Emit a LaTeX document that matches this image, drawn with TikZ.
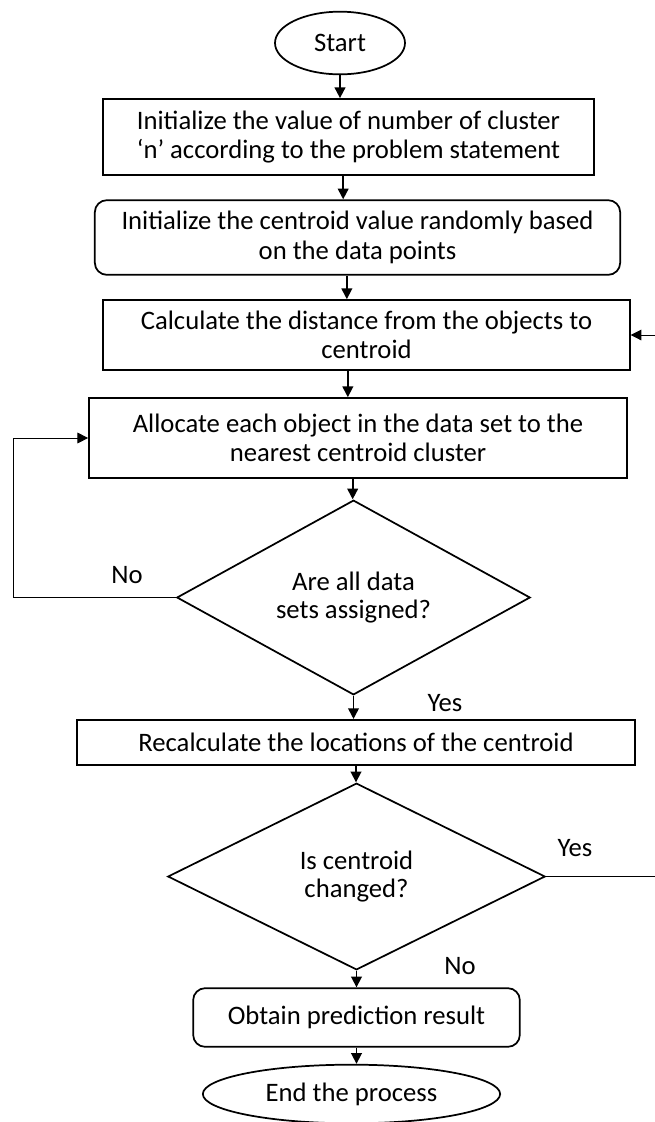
\documentclass[tikz,border=0pt]{standalone}
\usepackage{fontspec}
\setmainfont{Carlito}
\usetikzlibrary{shapes.geometric,arrows.meta}
\begin{document}
\begin{tikzpicture}[x=0.75pt,y=-0.75pt,line width=1.3pt,>={Triangle[length=8pt,width=8pt]},
main box/.style={rectangle,draw,align=center,inner sep=0pt,font=\fontsize{20}{22}\selectfont},
round box/.style={main box,rounded corners=9pt},
term node/.style={ellipse,draw,inner sep=0pt,font=\fontsize{20}{22}\selectfont},
cond node/.style={diamond,draw,aspect=2,align=center,inner sep=0pt,font=\fontsize{20}{21}\selectfont},
tag/.style={font=\fontsize{20}{22}\selectfont}]
\useasboundingbox (0,0) rectangle (654,1122);
\begin{scope}
\node[term node,minimum width=97.5pt,minimum height=47pt] (start) at (340,43) {Start};%start
\node[main box,minimum width=368pt,minimum height=57pt] (initn) at (348.5,137) {Initialize the value of number of cluster\\`n' according to the problem statement};%1
\node[round box,minimum width=394pt,minimum height=56pt] (initc) at (357.5,237.5) {Initialize the centroid value randomly based\\on the data points};%2
\node[main box,minimum width=395pt,minimum height=52.5pt] (dist) at (366.5,335) {Calculate the distance from the objects to\\centroid};%3
\node[main box,minimum width=403.5pt,minimum height=60pt] (alloc) at (358,438) {Allocate each object in the data set to the\\nearest centroid cluster};%4
\node[cond node,minimum width=265pt,minimum height=146pt] (assigned) at (353.5,597.5) {Are all data\\sets assigned?};%5
\node[main box,minimum width=418.5pt,minimum height=34pt] (recalc) at (356,742.5) {Recalculate the locations of the centroid};%6
\node[cond node,minimum width=283pt,minimum height=140pt] (changed) at (356.5,876.5) {Is centroid\\changed?};%7
\node[round box,minimum width=245pt,minimum height=44pt] (result) at (356.5,1017.5) {Obtain prediction result};%8
\node[term node,minimum width=223pt,minimum height=44pt] (finish) at (351.5,1094) {End the process};%end
%\node[main box] () at (,) {};
\end{scope}
\node[tag] (no1) at (127,575) {No};
\node[tag] (yes1) at (445,703) {Yes};
\node[tag] (yes2) at (575,848) {Yes};
\node[tag] (no2) at (460,966) {No};
\coordinate (loopL) at (13,0);
\coordinate (loopR) at (662,0);
\begin{scope}[every edge/.style={draw=black,line width=1.3pt,->}]
\draw (start.south) edge (start.south |- initn.north);
\draw ([xshift=-4pt]initn.south) edge ([xshift=-4pt]initn.south |- initc.north);
\draw ([xshift=-8pt]initc.south) edge ([xshift=-8pt]initc.south |- dist.north);
\draw ([xshift=-14pt]dist.south) edge ([xshift=-14pt]dist.south |- alloc.north);
\draw ([xshift=-4pt]alloc.south) edge ([xshift=-4pt]alloc.south |- assigned.north);
\draw (assigned.south) edge (assigned.south |- recalc.north);
\draw (recalc.south) edge (recalc.south |- changed.north);
\draw (changed.south) edge (changed.south |- result.north);
\draw (result.south) edge (result.south |- finish.north);
%\draw (a) edge (b);
\end{scope}
\draw[->,line width=0.7pt] (assigned.west) -- (assigned.west -| loopL) |- (alloc.west);
\draw[->,line width=0.7pt] (changed.east) -- (changed.east -| loopR) |- (dist.east);
\end{tikzpicture}
\end{document}
